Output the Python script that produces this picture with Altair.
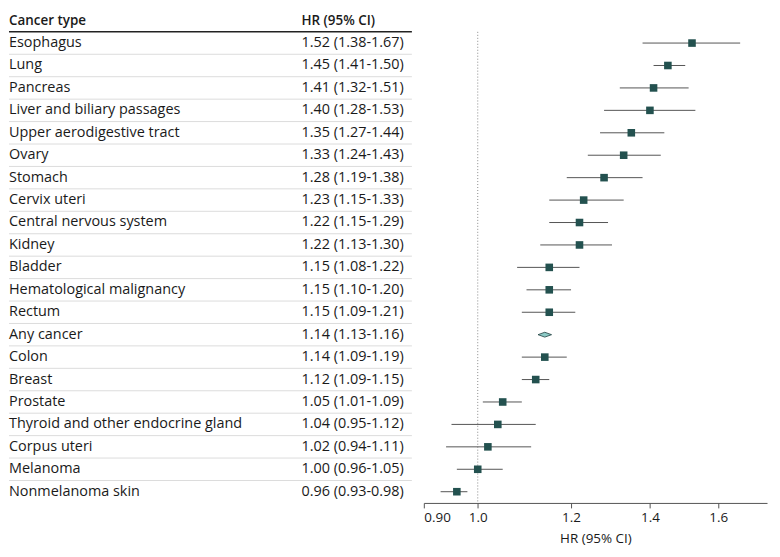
import altair as alt
import pandas as pd

cancer_types = [
    "Esophagus", "Lung", "Pancreas", "Liver and biliary passages",
    "Upper aerodigestive tract", "Ovary", "Stomach", "Cervix uteri",
    "Central nervous system", "Kidney", "Bladder", "Hematological malignancy",
    "Rectum", "Any cancer", "Colon", "Breast", "Prostate",
    "Thyroid and other endocrine gland", "Corpus uteri", "Melanoma",
    "Nonmelanoma skin",
]
hr = [1.52, 1.45, 1.41, 1.40, 1.35, 1.33, 1.28, 1.23, 1.22, 1.22, 1.15,
      1.15, 1.15, 1.14, 1.14, 1.12, 1.05, 1.04, 1.02, 1.00, 0.96]
ci_low = [1.38, 1.41, 1.32, 1.28, 1.27, 1.24, 1.19, 1.15, 1.15, 1.13, 1.08,
          1.10, 1.09, 1.13, 1.09, 1.09, 1.01, 0.95, 0.94, 0.96, 0.93]
ci_high = [1.67, 1.50, 1.51, 1.53, 1.44, 1.43, 1.38, 1.33, 1.29, 1.30, 1.22,
           1.20, 1.21, 1.16, 1.19, 1.15, 1.09, 1.12, 1.11, 1.05, 0.98]
summary_row = "Any cancer"
ref_hr = 1.0
tick_values = [0.9, 1.0, 1.2, 1.4, 1.6]
x_domain = [0.9, 1.76]
header_key = " "
col1_title = "Cancer type"
col2_title = "HR (95% CI)"
x_title = "HR (95% CI)"

df = pd.DataFrame({"cancer": cancer_types, "hr": hr, "lo": ci_low, "hi": ci_high})
df["label"] = [f"{h:.2f} ({l:.2f}-{u:.2f})" for h, l, u in zip(hr, ci_low, ci_high)]
df["is_last"] = df["cancer"] == cancer_types[-1]
df["is_summary"] = df["cancer"] == summary_row

FONT = "Open Sans"
FS = 14.5
HFS = 13.5
AFS = 13.5
TXT = "#1a1a1a"
ROW_H = 22.55
H = ROW_H * (len(cancer_types) + 1)

yscale = alt.Scale(domain=[header_key] + cancer_types, paddingInner=0, paddingOuter=0)
Y = lambda **kw: alt.Y("cancer:N", scale=yscale, axis=None, **kw)

base = alt.Chart(df)
header_df = pd.DataFrame({"cancer": [header_key], "c1": [col1_title], "c2": [col2_title]})
hbase = alt.Chart(header_df)

names = base.mark_text(align="left", baseline="middle", font=FONT, fontSize=FS, color=TXT).encode(
    x=alt.value(0), y=Y(), text="cancer:N")
labels = base.mark_text(align="left", baseline="middle", font=FONT, fontSize=FS, color=TXT).encode(
    x=alt.value(294), y=Y(), text="label:N")
h1 = hbase.mark_text(align="left", baseline="middle", font=FONT, fontSize=HFS, fontWeight=600, color=TXT).encode(
    x=alt.value(0), y=Y(), text="c1:N")
h2 = hbase.mark_text(align="left", baseline="middle", font=FONT, fontSize=HFS, fontWeight=600, color=TXT).encode(
    x=alt.value(294), y=Y(), text="c2:N")
seps = base.transform_filter("!datum.is_last").mark_rule(color="#dcdcdc", strokeWidth=1).encode(
    y=Y(bandPosition=1))
hline = hbase.mark_rule(color="#222222", strokeWidth=1.5).encode(y=Y(bandPosition=1))

table = alt.layer(seps, hline, names, labels, h1, h2).properties(width=405, height=H)

xscale = alt.Scale(type="log", domain=x_domain, nice=False)
xaxis = alt.Axis(
    values=tick_values, grid=False, title=x_title,
    labelExpr="datum.value < 1 ? format(datum.value, '.2f') : format(datum.value, '.1f')",
    labelFont=FONT, labelFontSize=AFS, labelColor=TXT, titleFont=FONT, titleFontSize=AFS,
    titleFontWeight="normal", titleColor=TXT, domainColor="#555555", tickColor="#555555",
    tickSize=5, labelPadding=3, titlePadding=7,
)

refline = alt.Chart(pd.DataFrame({"ref": [ref_hr], "cancer": [cancer_types[0]]})).mark_rule(
    color="#888888", strokeDash=[1, 2], strokeWidth=1).encode(
    x=alt.X("ref:Q", scale=xscale, axis=xaxis),
    y=Y(bandPosition=0), y2=alt.value("height"))
ci = base.transform_filter("!datum.is_summary").mark_rule(color="#555555", strokeWidth=1).encode(
    x=alt.X("lo:Q", scale=xscale, axis=xaxis), x2="hi:Q", y=Y())
squares = base.transform_filter("!datum.is_summary").mark_point(
    shape="square", filled=True, size=58, color="#23514f", opacity=1).encode(
    x=alt.X("hr:Q", scale=xscale, axis=xaxis), y=Y())
diamond = base.transform_filter("datum.is_summary").mark_point(
    shape="M-1,0L0,-0.36L1,0L0,0.36Z", filled=True, fill="#8ccac6", stroke="#1f3f3f",
    strokeWidth=0.8, size=185, opacity=1).encode(
    x=alt.X("hr:Q", scale=xscale, axis=xaxis), y=Y())

forest = alt.layer(refline, ci, squares, diamond).properties(width=345, height=H)

chart = alt.hconcat(table, forest, spacing=10).properties(
    padding={"left": 0, "top": 0, "right": 5, "bottom": 5}
).configure_view(strokeWidth=0)

chart.save("out.html", embed_options={"renderer": "svg", "actions": False})
